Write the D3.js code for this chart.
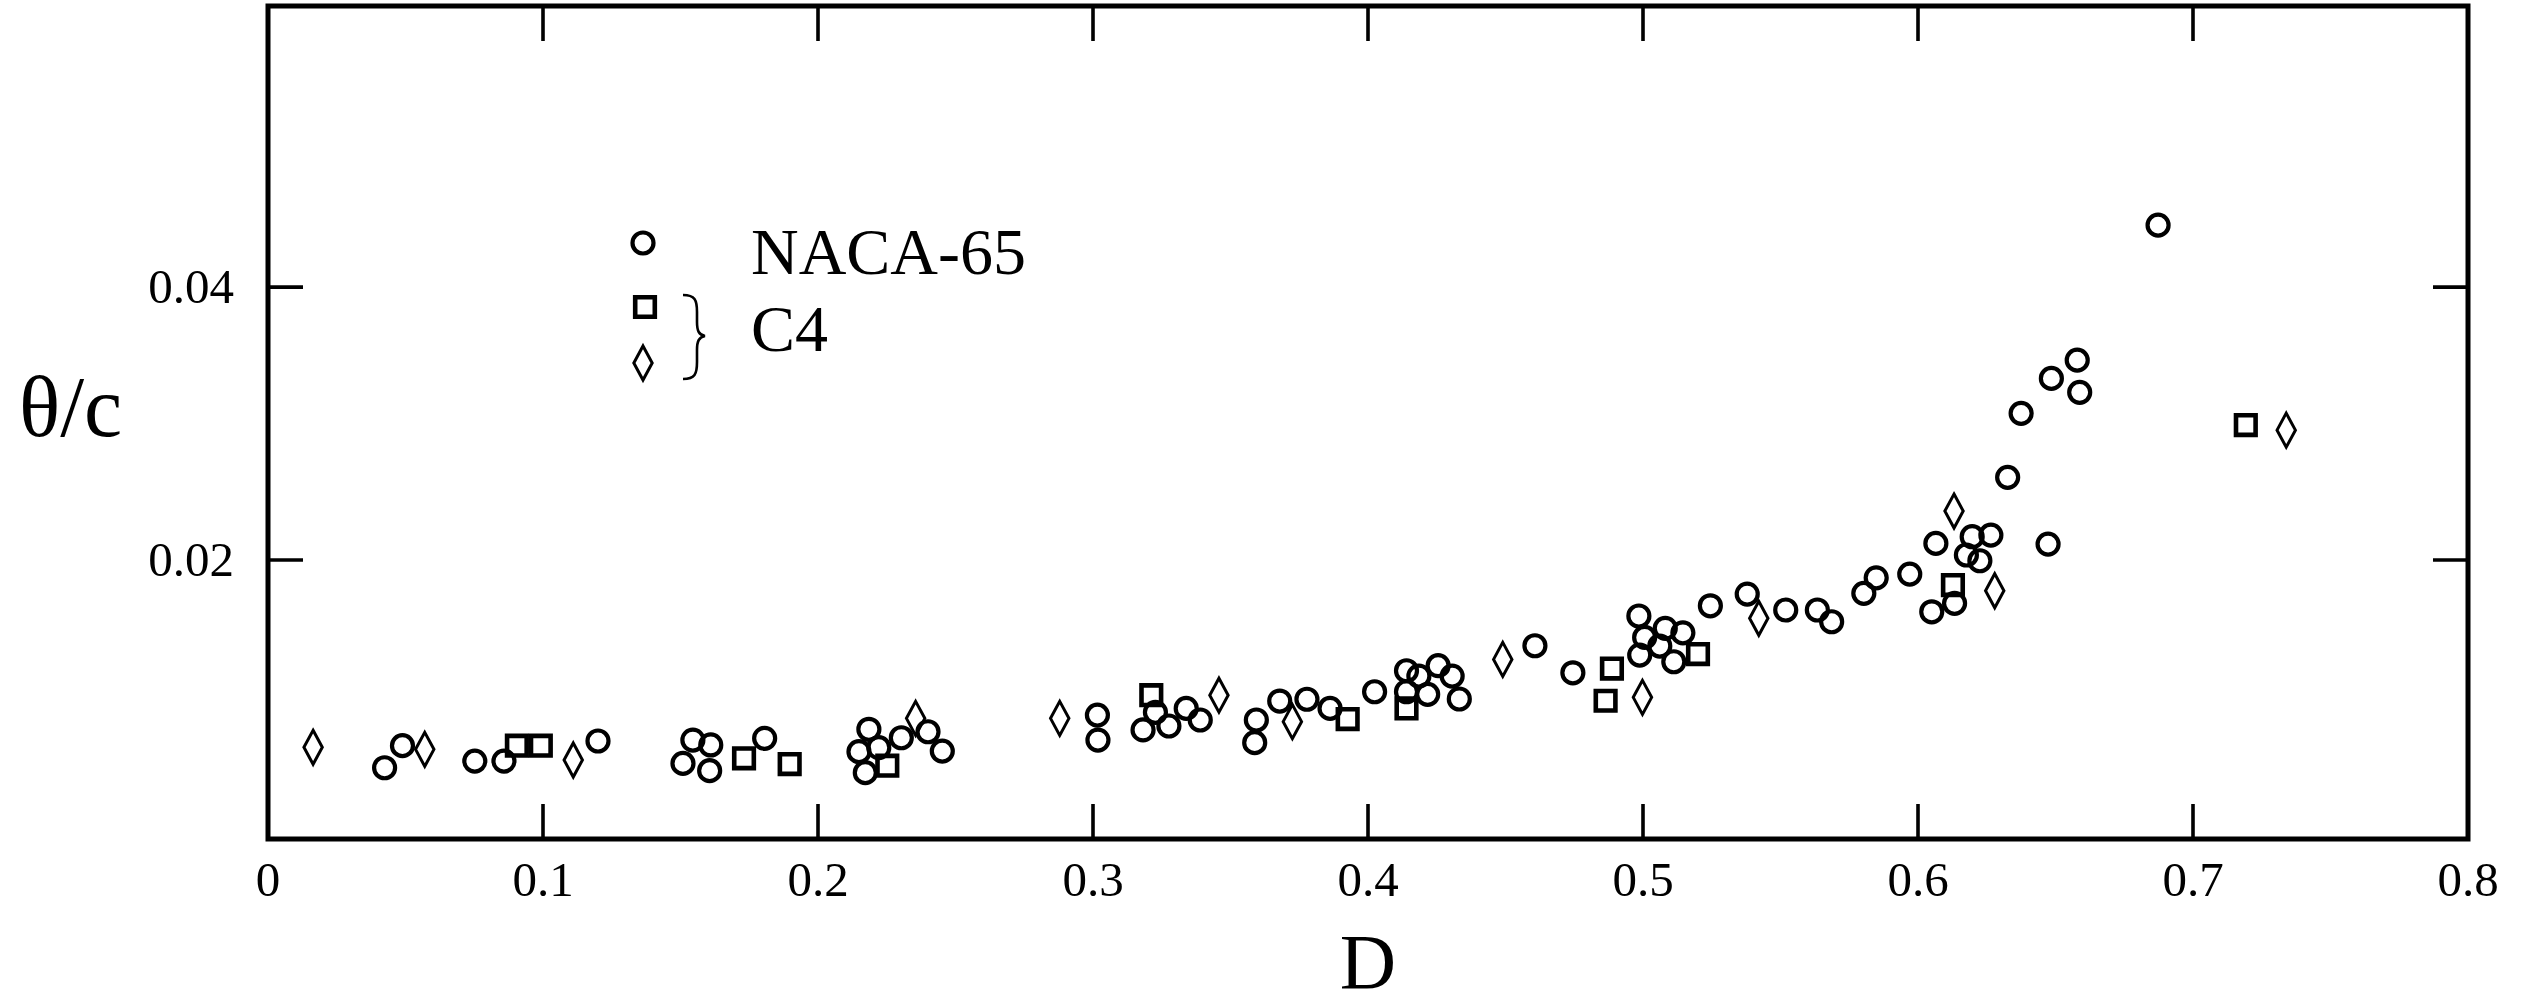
<!DOCTYPE html>
<html>
<head>
<meta charset="utf-8">
<script src="https://cdn.jsdelivr.net/npm/d3@7"></script>
<style>
  html, body { margin: 0; padding: 0; background: #fff; }
  svg { display: block; }
  text { font-family: "Liberation Serif", "DejaVu Serif", serif; fill: #000; }
</style>
</head>
<body>
<svg id="chart" width="2531" height="1006"></svg>
<script>
// Momentum thickness θ/c versus diffusion factor D

// NACA-65 cascade: [D, θ/c]
const naca65 = [
  [0.0424, 0.00478], [0.0489, 0.0064], [0.0752, 0.00527], [0.0858, 0.00527],
  [0.120, 0.00674], [0.1509, 0.0051], [0.1545, 0.00681], [0.161, 0.00645],
  [0.1606, 0.00457], [0.1806, 0.00694], [0.2185, 0.0076], [0.2149, 0.00596],
  [0.2221, 0.00625], [0.2172, 0.00442], [0.2303, 0.00698], [0.240, 0.00742],
  [0.2452, 0.006], [0.3016, 0.00864], [0.3018, 0.00681], [0.3227, 0.00884],
  [0.3182, 0.00755], [0.3276, 0.00784], [0.3339, 0.00913], [0.339, 0.00828],
  [0.3594, 0.00828], [0.3588, 0.00662], [0.3679, 0.00967], [0.3778, 0.0098],
  [0.3862, 0.00913], [0.4024, 0.01035], [0.414, 0.01189], [0.4185, 0.0115],
  [0.414, 0.01035], [0.4255, 0.01226], [0.4217, 0.01016], [0.4306, 0.0115],
  [0.4332, 0.00982], [0.4607, 0.01372], [0.4745, 0.01174], [0.4985, 0.0159],
  [0.5006, 0.01433], [0.4988, 0.01304], [0.5081, 0.015], [0.5061, 0.0137],
  [0.5145, 0.01467], [0.5112, 0.01255], [0.5245, 0.01665], [0.5379, 0.01751],
  [0.5519, 0.01634], [0.5634, 0.01634], [0.5686, 0.01548], [0.5803, 0.01756],
  [0.5848, 0.0187], [0.597, 0.01897], [0.605, 0.01621], [0.6133, 0.01683],
  [0.6065, 0.02122], [0.6197, 0.02171], [0.6265, 0.02183], [0.6176, 0.02037],
  [0.6225, 0.01995], [0.6326, 0.02606], [0.6375, 0.03075], [0.6473, 0.02117],
  [0.6485, 0.03331], [0.6579, 0.03465], [0.6588, 0.03229], [0.6873, 0.04454]
];

// C4 cascade, first set (squares): [D, θ/c]
const c4Squares = [
  [0.0905, 0.0064], [0.0992, 0.0064], [0.1731, 0.00547], [0.1897, 0.00505],
  [0.2252, 0.00493], [0.3212, 0.0101], [0.3926, 0.00835], [0.414, 0.00913],
  [0.4887, 0.01205], [0.4864, 0.00969], [0.520, 0.01311], [0.6127, 0.01817],
  [0.7192, 0.02989]
];

// C4 cascade, second set (diamonds): [D, θ/c]
const c4Diamonds = [
  [0.0164, 0.00628], [0.057, 0.00613], [0.111, 0.00535], [0.2355, 0.0084],
  [0.2879, 0.0084], [0.3458, 0.0101], [0.3725, 0.00816], [0.449, 0.01272],
  [0.4998, 0.00994], [0.5421, 0.01573], [0.6131, 0.02359], [0.6279, 0.01775],
  [0.7339, 0.02952]
];

const xTicks = [0, 0.1, 0.2, 0.3, 0.4, 0.5, 0.6, 0.7, 0.8];
const xTickLabels = ["0", "0.1", "0.2", "0.3", "0.4", "0.5", "0.6", "0.7", "0.8"];
const yTicks = [0.02, 0.04];
const yTickLabels = ["0.02", "0.04"];
const xDomain = [0, 0.8];
const yDomain = [-0.00044, 0.0606];
const legendLabels = ["NACA-65", "C4"];

// ---- layout ----
const frame = { left: 268, right: 2468, top: 6, bottom: 839 };
const svg = d3.select("#chart");

const x = d3.scaleLinear().domain(xDomain).range([frame.left, frame.right]);
const y = d3.scaleLinear().domain(yDomain).range([frame.bottom, frame.top]);

const tickLen = 35;

// inward ticks on all four sides
const innerTicksX = xTicks.filter(t => t > xDomain[0] && t < xDomain[1]);
const tickG = svg.append("g").attr("stroke", "#000").attr("stroke-width", 3.6);
tickG.selectAll("line.xb").data(innerTicksX).join("line")
  .attr("x1", d => x(d)).attr("x2", d => x(d))
  .attr("y1", frame.bottom).attr("y2", frame.bottom - tickLen);
tickG.selectAll("line.xt").data(innerTicksX).join("line")
  .attr("x1", d => x(d)).attr("x2", d => x(d))
  .attr("y1", frame.top).attr("y2", frame.top + tickLen);
tickG.selectAll("line.yl").data(yTicks).join("line")
  .attr("x1", frame.left).attr("x2", frame.left + tickLen)
  .attr("y1", d => y(d)).attr("y2", d => y(d));
tickG.selectAll("line.yr").data(yTicks).join("line")
  .attr("x1", frame.right).attr("x2", frame.right - tickLen)
  .attr("y1", d => y(d)).attr("y2", d => y(d));

// frame
svg.append("rect")
  .attr("x", frame.left).attr("y", frame.top)
  .attr("width", frame.right - frame.left).attr("height", frame.bottom - frame.top)
  .attr("fill", "none").attr("stroke", "#000").attr("stroke-width", 5);

// tick labels
svg.append("g").selectAll("text").data(xTicks).join("text")
  .attr("x", d => x(d)).attr("y", 896)
  .attr("text-anchor", "middle").attr("font-size", 49)
  .text((d, i) => xTickLabels[i]);

svg.append("g").selectAll("text").data(yTicks).join("text")
  .attr("x", 234).attr("y", d => y(d) + 16)
  .attr("text-anchor", "end").attr("font-size", 49)
  .text((d, i) => yTickLabels[i]);

// axis titles
svg.append("text")
  .attr("x", (frame.left + frame.right) / 2).attr("y", 988)
  .attr("text-anchor", "middle").attr("font-size", 78)
  .text("D");
svg.append("text")
  .attr("x", 19).attr("y", 436)
  .attr("font-size", 86)
  .text("θ/c");

// marker shapes, centred on (0,0)
const circlePath = r => `M${-r},0A${r},${r} 0 1,0 ${r},0A${r},${r} 0 1,0 ${-r},0Z`;
const squarePath = h => `M${-h},${-h}H${h}V${h}H${-h}Z`;
const diamondPath = (w, h) => `M0,${-h}L${w},0L0,${h}L${-w},0Z`;

const markers = {
  circle: { d: circlePath(10.5), sw: 4.2 },
  square: { d: squarePath(9.8), sw: 4.6 },
  diamond: { d: diamondPath(9.2, 17), sw: 3 }
};

function drawSeries(data, kind) {
  const m = markers[kind];
  svg.append("g").selectAll("path").data(data).join("path")
    .attr("d", m.d)
    .attr("transform", d => `translate(${x(d[0])},${y(d[1])})`)
    .attr("fill", "none").attr("stroke", "#000")
    .attr("stroke-width", m.sw).attr("stroke-linejoin", "miter");
}

drawSeries(naca65, "circle");
drawSeries(c4Squares, "square");
drawSeries(c4Diamonds, "diamond");

// legend
const lg = svg.append("g");
const legendItems = [
  { kind: "circle", cx: 643, cy: 243 },
  { kind: "square", cx: 645, cy: 307 },
  { kind: "diamond", cx: 643, cy: 363 }
];
lg.selectAll("path.mk").data(legendItems).join("path")
  .attr("d", d => markers[d.kind].d)
  .attr("transform", d => `translate(${d.cx},${d.cy})`)
  .attr("fill", "none").attr("stroke", "#000")
  .attr("stroke-width", d => markers[d.kind].sw);

// brace grouping the two C4 symbols
lg.append("path")
  .attr("d", "M683,295 C695,295 697,300 697,312 L697,322 C697,331 699,335 705,336 " +
             "C699,337 697,341 697,350 L697,362 C697,374 695,379 683,379")
  .attr("fill", "none").attr("stroke", "#000").attr("stroke-width", 2.6);

lg.append("text").attr("x", 751).attr("y", 274).attr("font-size", 66).text(legendLabels[0]);
lg.append("text").attr("x", 751).attr("y", 351).attr("font-size", 66).text(legendLabels[1]);
</script>
</body>
</html>
